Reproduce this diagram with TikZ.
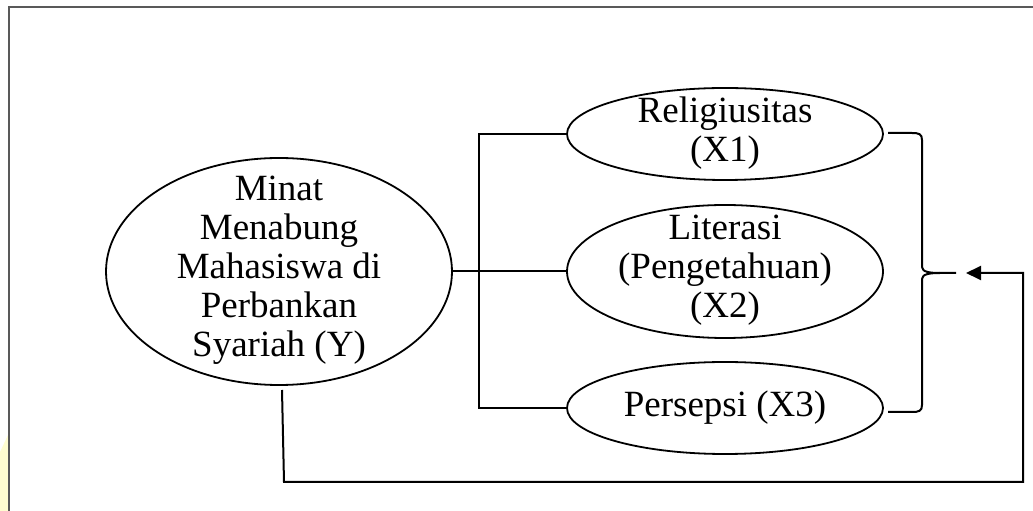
\documentclass[tikz,border=0pt]{standalone}
\usepackage{fontspec}
\setmainfont{Liberation Serif}
\usetikzlibrary{shapes.geometric,arrows.meta}
\begin{document}
\begin{tikzpicture}[x=1pt,y=1pt,
  oval/.style={draw=black,line width=1.8pt,ellipse,inner sep=0pt,minimum width=316pt},
  lbl/.style={align=center,font=\fontsize{37}{39}\selectfont,inner sep=0pt},
  conn/.style={draw=black,line width=2pt},
  frame/.style={draw=black!65,line width=1.6pt}]
\useasboundingbox (0,0) rectangle (1033,511);
% watermark patch and frame
\fill[fill={rgb,255:red,255;green,253;blue,208}] (0,59) -- (8,76) -- (8,0) -- (0,0) -- cycle;
\draw[frame] (9,0) -- (9,504) -- (1033,504);
% nodes
\node[oval,minimum width=346pt,minimum height=227pt] (Y) at (279,239.5) {};
\node[lbl] (Yt) at (279,241) {Minat\\Menabung\\Mahasiswa di\\Perbankan\\Syariah (Y)};
\node[oval,minimum height=92pt] (X1) at (725,377) {};
\node[lbl] (X1t) at (725,378) {Religiusitas\\(X1)};
\node[oval,minimum height=133pt] (X2) at (725,239.5) {};
\node[lbl] (X2t) at (725,241) {Literasi\\(Pengetahuan)\\(X2)};
\node[oval,minimum height=92pt] (X3) at (725,103) {};
\node[lbl] (X3t) at (725,103) {Persepsi (X3)};
% connectors
\draw[conn] (Y.east) -- (X2.west);
\draw[conn] (X1.west) -- ++(-87,0) |- (X3.west);
% brace
\coordinate (b1) at (888,378);
\coordinate (b2) at (888,99);
\coordinate (bt) at (956,238);
\draw[conn,line join=round] (b1) -- (912,378) .. controls (919,378) and (922,377) .. (922,371)
  -- (922,244) .. controls (922,239) and (930,238) .. (940,238) -- (bt);
\draw[conn,line join=round] (940,238) .. controls (930,238) and (922,237) .. (922,232)
  -- (922,106) .. controls (922,100) and (919,99) .. (912,99) -- (b2);
% feedback arrow
\coordinate (s) at (282,121);
\coordinate (c1) at (284,29);
\coordinate (c2) at (1023,29);
\coordinate (c3) at (1023,238);
\coordinate (tip) at (966,238);
\draw[conn,-{Triangle[length=15pt,width=14pt]}] (s) -- (c1) -- (c2) -- (c3) -- (tip);
\end{tikzpicture}
\end{document}
